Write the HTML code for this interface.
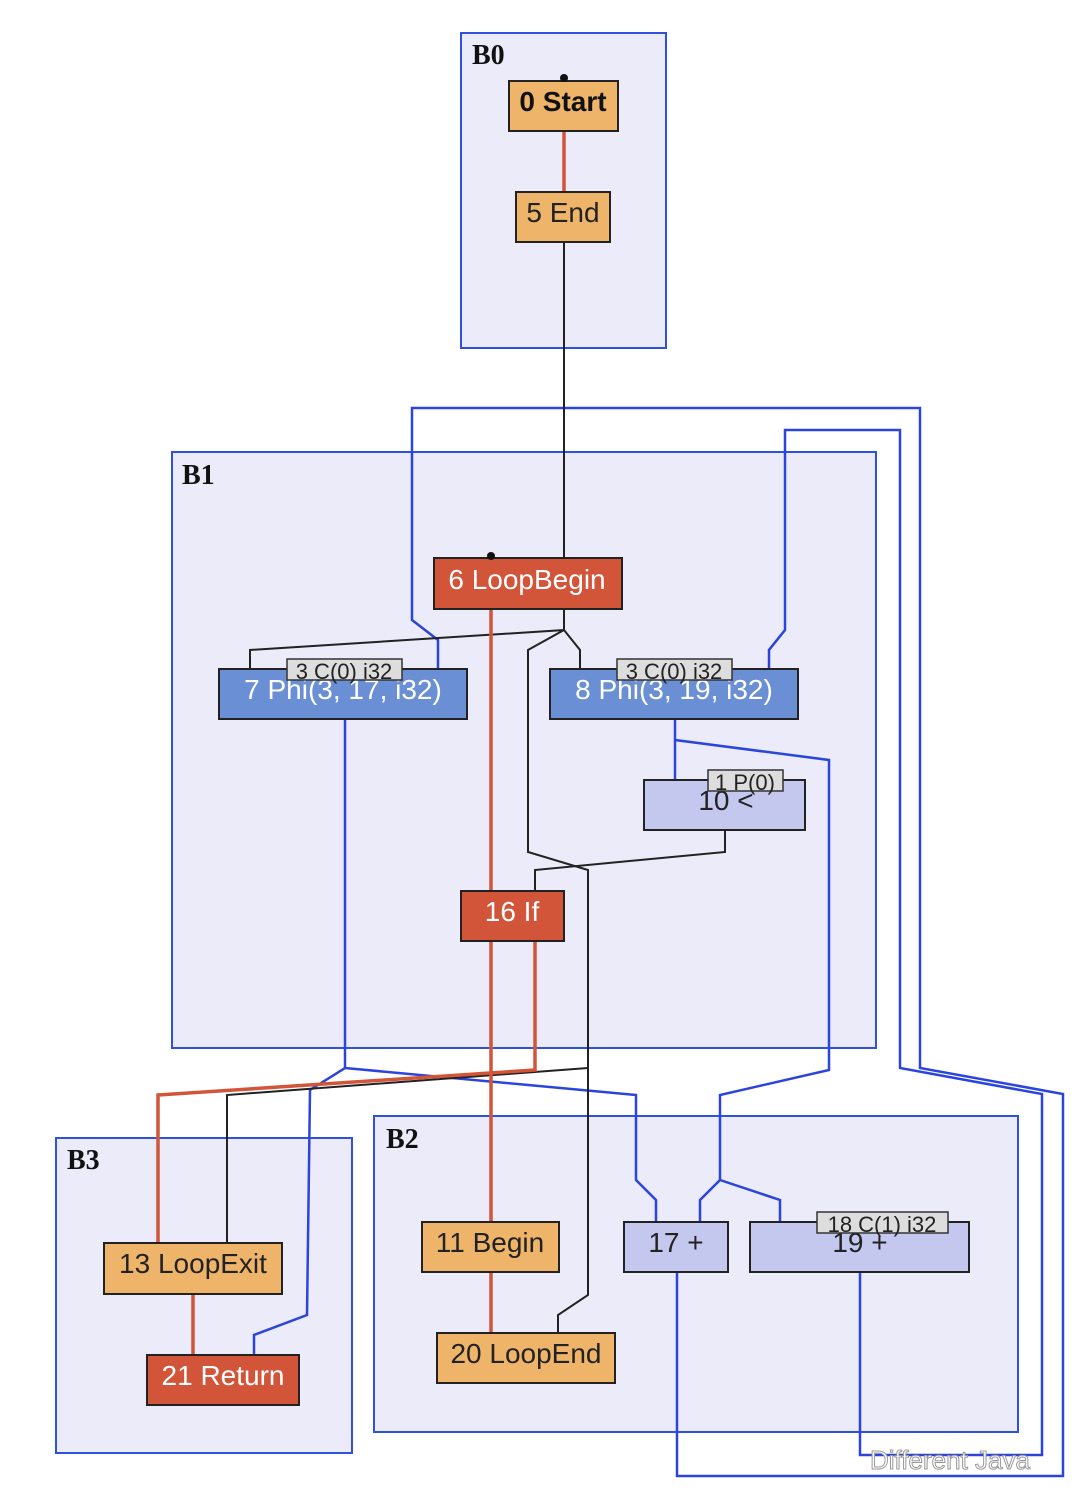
<!DOCTYPE html>
<html><head><meta charset="utf-8"><style>
html,body{margin:0;padding:0;background:#fff;}
svg{display:block;}
.s{font-family:"Liberation Sans",sans-serif;}
.serif{font-family:"Liberation Serif",serif;font-weight:bold;}
</style></head><body>
<svg width="1080" height="1503" viewBox="0 0 1080 1503" xmlns="http://www.w3.org/2000/svg">
<g fill="#ebebfa" stroke="#3050e0" stroke-width="2">
<rect x="461" y="33" width="205" height="315"/>
<rect x="172" y="452" width="704" height="596"/>
<rect x="374" y="1116" width="644" height="316"/>
<rect x="56" y="1138" width="296" height="315"/>
</g>
<g class="serif" font-size="28" fill="#111">
<text x="472" y="64">B0</text><text x="182" y="484">B1</text><text x="386" y="1148">B2</text><text x="67" y="1169">B3</text>
</g>
<g fill="none" stroke="#2a44dd" stroke-width="2.5">
<polyline points="345,719 345,1068 310,1090 307,1315 254,1335 254,1355"/>
<polyline points="345,1068 636,1095 636,1180 656,1200 656,1222"/>
<polyline points="675,719 675,780"/>
<polyline points="675,740 829,760 829,1070 720,1095 720,1180 700,1200 700,1222"/>
<polyline points="720,1180 780,1200 780,1222"/>
<polyline points="677,1272 677,1476 1063,1476 1063,1094 920,1068 920,408 412,408 412,620 438,640 438,669"/>
<polyline points="860,1272 860,1455 1042,1455 1042,1094 900,1068 900,430 785,430 785,630 769,650 769,669"/>
</g>
<g fill="none" stroke="#222" stroke-width="2">
<polyline points="564,242 564,558"/>
<polyline points="564,609 564,630 250,650 250,669"/>
<polyline points="564,630 580,650 580,669"/>
<polyline points="564,630 528,650 528,852 588,870 588,1295 558,1315 558,1333"/>
<polyline points="588,1068 227,1095 227,1243"/>
<polyline points="725,830 725,852 535,870 535,891"/>
</g>
<g fill="none" stroke="#d2553a" stroke-width="3.5">
<polyline points="564,131 564,192"/>
<polyline points="491,609 491,891"/>
<polyline points="491,941 491,1222"/>
<polyline points="491,1272 491,1333"/>
<polyline points="535,941 535,1070 158,1095 158,1243"/>
<polyline points="193,1294 193,1355"/>
</g>
<g stroke="#222" stroke-width="2">
<rect x="509" y="81" width="109" height="50" fill="#eeb46a"/>
<rect x="516" y="192" width="94" height="50" fill="#eeb46a"/>
<rect x="434" y="558" width="188" height="51" fill="#d2553a"/>
<rect x="219" y="669" width="248" height="50" fill="#6a8fd5"/>
<rect x="550" y="669" width="248" height="50" fill="#6a8fd5"/>
<rect x="644" y="780" width="161" height="50" fill="#c5c8ee"/>
<rect x="461" y="891" width="103" height="50" fill="#d2553a"/>
<rect x="104" y="1243" width="178" height="51" fill="#eeb46a"/>
<rect x="147" y="1355" width="152" height="50" fill="#d2553a"/>
<rect x="422" y="1222" width="137" height="50" fill="#eeb46a"/>
<rect x="437" y="1333" width="178" height="50" fill="#eeb46a"/>
<rect x="624" y="1222" width="104" height="50" fill="#c5c8ee"/>
<rect x="750" y="1222" width="219" height="50" fill="#c5c8ee"/>
</g>
<circle cx="564" cy="78" r="4" fill="#111"/>
<circle cx="491" cy="556" r="4" fill="#111"/>
<g class="s" font-size="28" text-anchor="middle">
<text x="563" y="111" font-weight="bold" fill="#111">0 Start</text>
<text x="563" y="222" fill="#222">5 End</text>
<text x="527" y="589" fill="#fff">6 LoopBegin</text>
<text x="343" y="699" fill="#fff">7 Phi(3, 17, i32)</text>
<text x="674" y="699" fill="#fff">8 Phi(3, 19, i32)</text>
<text x="726" y="810" fill="#222">10 &lt;</text>
<text x="512" y="921" fill="#fff">16 If</text>
<text x="193" y="1273" fill="#222">13 LoopExit</text>
<text x="223" y="1385" fill="#fff">21 Return</text>
<text x="490" y="1252" fill="#222">11 Begin</text>
<text x="526" y="1363" fill="#222">20 LoopEnd</text>
<text x="676" y="1252" fill="#222">17 +</text>
<text x="860" y="1252" fill="#222">19 +</text>
</g>
<g stroke="#333" stroke-width="1.5" fill="#ddd">
<rect x="287" y="659" width="115" height="21"/>
<rect x="617" y="659" width="115" height="21"/>
<rect x="708" y="770" width="75" height="21"/>
<rect x="817" y="1212" width="131" height="21"/>
</g>
<g class="s" font-size="22" text-anchor="middle" fill="#222">
<text x="344" y="679">3 C(0) i32</text>
<text x="674" y="679">3 C(0) i32</text>
<text x="745" y="790">1 P(0)</text>
<text x="882" y="1232">18 C(1) i32</text>
</g>
<text class="s" x="870" y="1469" font-size="26" fill="#fff" stroke="#999" stroke-width="1">Different Java</text>
</svg>
</body></html>
